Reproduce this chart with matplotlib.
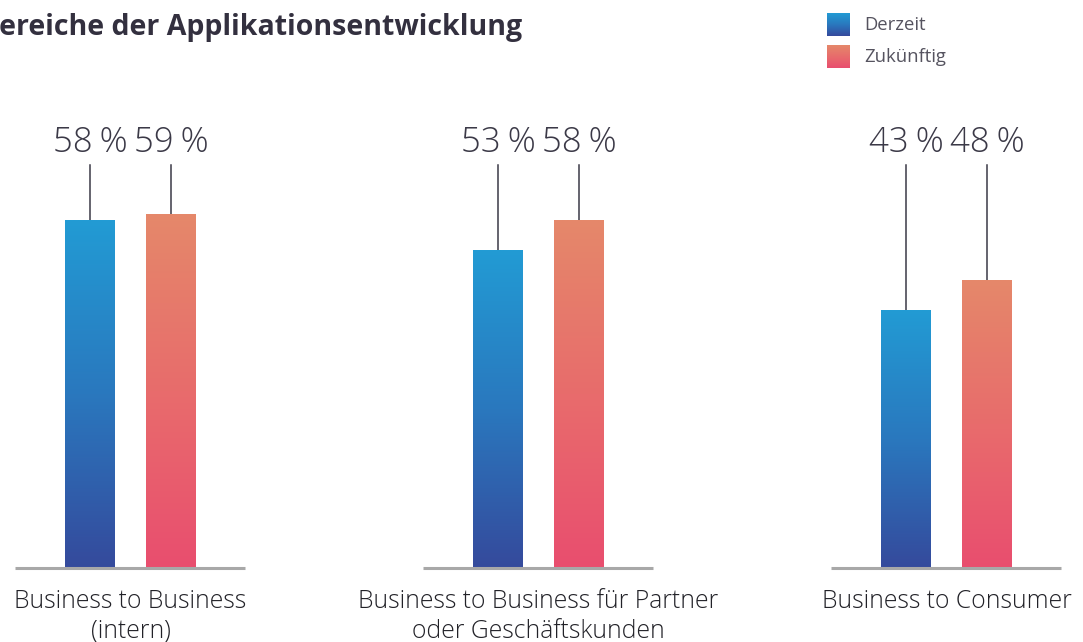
import numpy as np
import matplotlib.pyplot as plt
from matplotlib.colors import LinearSegmentedColormap

#####################################

categories = ['Business to Business\n(intern)',
              'Business to Business für Partner\noder Geschäftskunden',
              'Business to Consumer']
series = ['Derzeit', 'Zukünftig']
derzeit = [58, 53, 43]
zukuenftig = [59, 58, 48]
title = 'Bereiche der Applikationsentwicklung'

#####################################

blue = LinearSegmentedColormap.from_list('blue', ['#354a9c', '#2a78be', '#229bd4'])
red = LinearSegmentedColormap.from_list('red', ['#e94e6f', '#e86c6c', '#e5886a'])
dark = '#3b3947'

W, H = 1083, 642
fig = plt.figure(figsize=(W / 100, H / 100), dpi=100)
ax = fig.add_axes([0, 0, 1, 1])
px = 408.0  # pixels per group
ax.set_xlim(-130.5 / px, (W - 130.5) / px)
ax.set_ylim(-74 / 6.0, (H - 74) / 6.0)
ax.axis('off')

grad = np.linspace(0, 1, 256).reshape(-1, 1)
x = np.arange(len(categories))
off = 40.5 / px
width = 50 / px

for vals, cmap, sign in [(derzeit, blue, -1), (zukuenftig, red, 1)]:
    bars = ax.bar(x + sign * off, vals, width, color='none', edgecolor='none')
    for b, v in zip(bars, vals):
        x0 = b.get_x()
        im = ax.imshow(grad, cmap=cmap, origin='lower', aspect='auto',
                       extent=[x0, x0 + b.get_width(), 0, v], zorder=2)
        im.set_clip_path(b)
        xc = x0 + b.get_width() / 2
        ax.plot([xc, xc], [v, 67.2], color=dark, lw=1.1, zorder=1)
        ax.text(xc, 69.3, '%d\u2009%%' % v, ha='center', va='baseline',
                fontsize=25, color=dark, family=['Open Sans', 'DejaVu Sans'],
                fontweight='light')

for i, c in enumerate(categories):
    ax.plot([i - 115.5 / px, i + 114.5 / px], [0, 0], color='#a8a8a8', lw=2.2,
            solid_capstyle='butt', zorder=3)
    ax.text(i, -3.5, c, ha='center', va='top', fontsize=17.8, color='#222228',
            family='Open Sans', fontweight='light', linespacing=1.25)

fig.text(522 / W, 1 - 27 / H, title, ha='right', va='center', fontsize=20.5,
         fontweight='bold', color='#33303f', family='Open Sans')

# legend
for j, (name, cmap) in enumerate(zip(series, [blue, red])):
    top = 13 + 32 * j
    lax = fig.add_axes([827 / W, 1 - (top + 23) / H, 23 / W, 23 / H])
    lax.imshow(grad, cmap=cmap, origin='lower', aspect='auto')
    lax.axis('off')
    fig.text(864 / W, 1 - (top + 11.5) / H, name, ha='left', va='center',
             fontsize=13.3, color='#55535f', family='Open Sans')

fig.savefig('out.png', dpi=100)
